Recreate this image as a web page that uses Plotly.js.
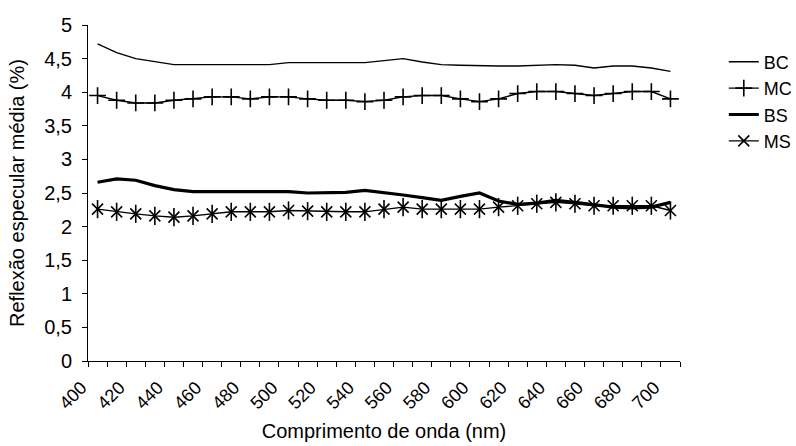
<!DOCTYPE html>
<html>
<head>
<meta charset="utf-8">
<script src="https://cdn.plot.ly/plotly-3.0.1.min.js"></script>
<style>html,body{margin:0;padding:0;background:#fff;}#chart{width:796px;height:446px;}</style>
</head>
<body>
<div id="chart"></div>
<script>
const wavelengths = [400,410,420,430,440,450,460,470,480,490,500,510,520,530,540,550,560,570,580,590,600,610,620,630,640,650,660,670,680,690,700];
const xTickVals = [400,420,440,460,480,500,520,540,560,580,600,620,640,660,680,700];
const xTickText = ["400","420","440","460","480","500","520","540","560","580","600","620","640","660","680","700"];
const BC = [4.72,4.59,4.50,4.46,4.41,4.41,4.41,4.41,4.41,4.41,4.44,4.44,4.44,4.44,4.44,4.47,4.50,4.45,4.41,4.40,4.39,4.39,4.39,4.40,4.41,4.40,4.36,4.39,4.39,4.36,4.31];
const MC = [3.95,3.88,3.84,3.84,3.88,3.90,3.93,3.93,3.90,3.93,3.93,3.90,3.88,3.88,3.86,3.88,3.93,3.95,3.95,3.90,3.86,3.90,3.98,4.01,4.01,3.98,3.95,3.98,4.01,4.01,3.90];
const BS = [2.66,2.71,2.69,2.61,2.55,2.52,2.52,2.52,2.52,2.52,2.52,2.50,2.50,2.51,2.54,2.51,2.47,2.43,2.39,2.45,2.50,2.38,2.33,2.35,2.39,2.36,2.32,2.29,2.28,2.29,2.36];
const MS = [2.26,2.22,2.19,2.16,2.14,2.16,2.19,2.22,2.22,2.22,2.24,2.23,2.22,2.22,2.22,2.26,2.29,2.26,2.26,2.26,2.26,2.29,2.31,2.34,2.36,2.34,2.31,2.31,2.31,2.31,2.24];

const FONT = "Liberation Sans, Arial, sans-serif";
const traces = [
  {x: wavelengths, y: BC, name: "BC", type: "scatter", mode: "lines", line: {color: "#000", width: 1.4}},
  {x: wavelengths, y: MC, name: "MC", type: "scatter", mode: "lines+markers", line: {color: "#000", width: 1.4},
   marker: {symbol: "cross-thin-open", size: 12, color: "#000", line: {color: "#000", width: 1.6}}},
  {x: wavelengths, y: BS, name: "BS", type: "scatter", mode: "lines", line: {color: "#000", width: 3.2}},
  {x: wavelengths, y: MS, name: "MS", type: "scatter", mode: "lines+markers", line: {color: "#000", width: 1.4},
   marker: {symbol: "x-thin-open", size: 11, color: "#000", line: {color: "#000", width: 1.6}}, legendgroup: "ms"},
  {x: wavelengths, y: MS, name: "MS", type: "scatter", mode: "markers", showlegend: false, legendgroup: "ms",
   marker: {symbol: "line-ns-open", size: 13, color: "#000", line: {color: "#000", width: 1.6}}, hoverinfo: "skip"}
];

const layout = {
  width: 796, height: 446,
  margin: {l: 88, r: 116, t: 25, b: 85, autoexpand: false},
  paper_bgcolor: "#fff", plot_bgcolor: "#fff",
  separators: ",.",
  font: {family: FONT, size: 20, color: "#000"},
  showlegend: true,
  legend: {x: 1.074, xanchor: "left", y: 0.945, yanchor: "top", font: {family: FONT, size: 18, color: "#000"},
           tracegroupgap: 0, borderwidth: 0, bgcolor: "rgba(0,0,0,0)"},
  xaxis: {
    range: [395, 705], showgrid: false, zeroline: false,
    showline: true, linecolor: "#000", linewidth: 1,
    tickmode: "array", tickvals: xTickVals, ticktext: xTickText,
    ticks: "", tickangle: -45, ticklabelstandoff: 8, ticklabelshift: -16,
    tickfont: {family: FONT, size: 18, color: "#000"},
    minor: {tick0: 395, dtick: 10, ticks: "outside", ticklen: 5, tickwidth: 1, tickcolor: "#000", showgrid: false},
    title: {text: "Comprimento de onda (nm)", font: {family: FONT, size: 20, color: "#000"}, standoff: 11}
  },
  yaxis: {
    range: [0, 5], dtick: 0.5, tick0: 0, showgrid: false, zeroline: false,
    showline: true, linecolor: "#000", linewidth: 1,
    ticks: "outside", ticklen: 5, tickwidth: 1, tickcolor: "#000", ticklabelstandoff: 6,
    tickfont: {family: FONT, size: 20, color: "#000"},
    title: {text: "Reflexão especular média (%)", font: {family: FONT, size: 20, color: "#000"}, standoff: 14}
  }
};

Plotly.newPlot("chart", traces, layout, {displayModeBar: false, staticPlot: true});
</script>
</body>
</html>
